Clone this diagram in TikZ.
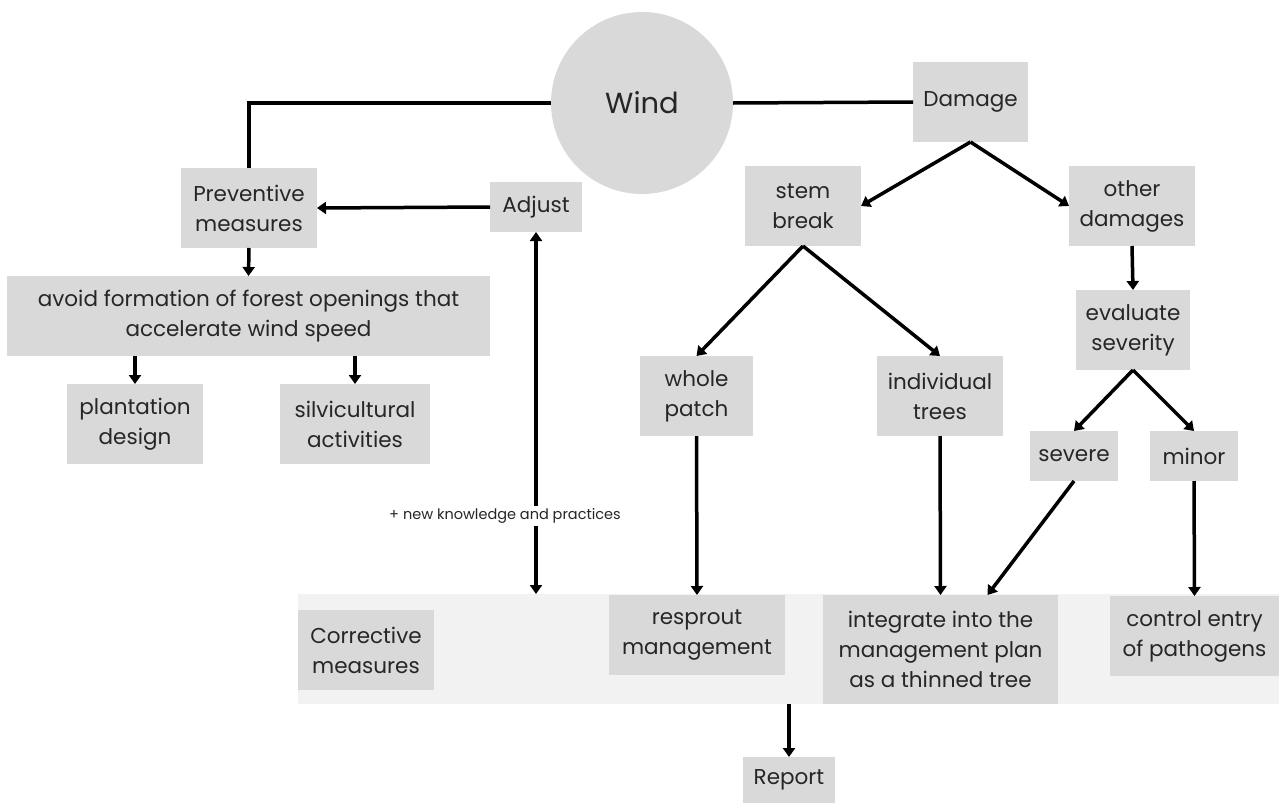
\documentclass[tikz,border=0pt]{standalone}
\usepackage{fontspec}
\setmainfont{Poppins}
\usetikzlibrary{arrows.meta,calc}
\definecolor{boxgray}{HTML}{D9D9D9}
\definecolor{bandgray}{HTML}{F2F2F2}
\begin{document}
\begin{tikzpicture}[x=1pt,y=-1pt,
  every node/.style={inner sep=0pt,outer sep=0pt},
  bx/.style={fill=boxgray,align=center,font=\fontsize{21.5}{30}\selectfont,text=black!85},
  conn/.style={line width=3.5pt,-{Triangle[length=9pt,width=12pt]}},
  plainconn/.style={line width=3.5pt},
]
\useasboundingbox (0,0) rectangle (1279,803);
% band
\node[fill=bandgray,minimum width=981pt,minimum height=110pt] (band) at (788.5,649) {};
% nodes
\node[circle,fill=boxgray,minimum size=182pt,font=\fontsize{29}{30}\selectfont,text=black!85] (wind) at (642,103) {Wind};
\node[bx,minimum width=115pt,minimum height=80pt] (damage) at (970.5,102) {Damage};
\node[bx,minimum width=136pt,minimum height=80pt] (prev) at (249,208) {Preventive\\measures};
\node[bx,minimum width=92pt,minimum height=50pt] (adjust) at (536,207) {Adjust};
\node[bx,minimum width=483pt,minimum height=80pt] (avoid) at (248.5,316) {avoid formation of forest openings that\\accelerate wind speed};
\node[bx,minimum width=136pt,minimum height=80pt] (plant) at (135,424) {plantation\\design};
\node[bx,minimum width=150pt,minimum height=80pt] (silv) at (355,424) {silvicultural\\activities};
\node[bx,minimum width=116pt,minimum height=80pt] (stem) at (803,206) {stem\\break};
\node[bx,minimum width=126pt,minimum height=80pt] (other) at (1132,206) {other\\damages};
\node[bx,minimum width=114pt,minimum height=80pt] (eval) at (1133,330) {evaluate\\severity};
\node[bx,minimum width=113pt,minimum height=80pt] (whole) at (696.5,396) {whole\\patch};
\node[bx,minimum width=126pt,minimum height=80pt] (indiv) at (940,396) {individual\\trees};
\node[bx,minimum width=88pt,minimum height=50pt] (severe) at (1074,456) {severe};
\node[bx,minimum width=88pt,minimum height=50pt] (minor) at (1194,456) {minor};
\node[bx,minimum width=136pt,minimum height=80pt] (corr) at (366,650) {Corrective\\measures};
\node[bx,minimum width=176pt,minimum height=80pt] (resprout) at (697,635) {resprout\\management};
\node[bx,minimum width=235pt,minimum height=109pt] (integ) at (940.5,649.5) {integrate into the\\management plan\\as a thinned tree};
\node[bx,minimum width=169pt,minimum height=80pt] (control) at (1194.5,636) {control entry\\of pathogens};
\node[bx,minimum width=92pt,minimum height=46pt] (report) at (789,780) {Report};
% connectors
\draw[plainconn] (wind.west) -| (prev.north);
\draw[plainconn] (wind.east) -- (damage.west);
\draw[conn] (adjust.west) -- (prev.east);
\draw[conn] (prev.south) -- (avoid.north);
\draw[conn] (plant.north |- avoid.south) -- (plant.north);
\draw[conn] (silv.north |- avoid.south) -- (silv.north);
\draw[line width=3.5pt,{Triangle[length=9pt,width=12pt]}-{Triangle[length=9pt,width=12pt]}] (adjust.south) -- (adjust.south |- band.north);
\node[fill=white,inner sep=3pt,font=\fontsize{14.5}{16}\selectfont,text=black!85] (knowl) at (505,516) {+ new knowledge and practices};
\draw[conn] (damage.south) -- (stem.east);
\draw[conn] (damage.south) -- (other.west);
\draw[conn] (other.south) -- (eval.north);
\draw[conn] (stem.south) -- (whole.north);
\draw[conn] (stem.south) -- (indiv.north);
\draw[conn] (eval.south) -- (severe.north);
\draw[conn] (eval.south) -- (minor.north);
\draw[conn] (whole.south) -- (resprout.north);
\draw[conn] (indiv.south) -- (integ.north);
\coordinate (integin) at ([xshift=47pt]integ.north);
\draw[conn] (severe.south) -- (integin);
\draw[conn] (minor.south) -- (control.north);
\draw[conn] (report.north |- band.south) -- (report.north);
\end{tikzpicture}
\end{document}
